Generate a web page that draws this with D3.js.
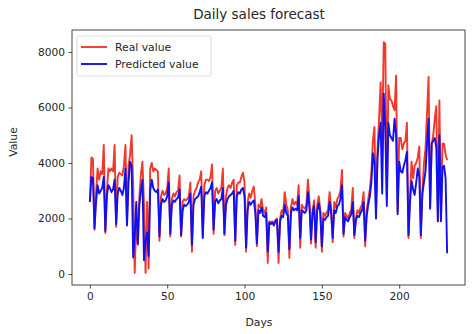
<!DOCTYPE html>
<html><head><meta charset="utf-8">
<script src="https://cdn.jsdelivr.net/npm/d3@7"></script>
<style>body{margin:0;background:#fff}svg{display:block}</style>
</head><body>
<svg id="c" width="475" height="334"></svg>
<script>
const title = "Daily sales forecast";
const xLabel = "Days";
const yLabel = "Value";
const seriesNames = ["Real value", "Predicted value"];
const xTicks = [0, 50, 100, 150, 200];
const yTicks = [0, 2000, 4000, 6000, 8000];

const realValues = [
2600,4200,4150,1600,2900,3800,3400,3700,3600,4650,
1480,3000,3800,3700,3800,3700,4650,1700,3500,3650,
3600,3550,3900,4650,1800,3900,4300,5000,3200,40,
1950,1050,2800,3600,4050,2500,40,2600,200,3800,
4000,3700,3800,3750,3700,1200,2800,3000,2850,2900,
3100,3800,1350,2700,2900,2800,2950,3000,3550,1350,
2600,2700,2650,2700,2800,3300,800,2800,3000,3100,
3300,3400,3700,1350,3200,3400,3400,3350,3500,3950,
1450,3000,3100,2900,3000,3100,3800,1400,2800,3100,
3200,3100,3300,3400,1050,3200,3300,3300,3500,3650,
3300,800,2600,2900,2750,3000,3150,2500,1000,2500,
2400,2700,2300,2200,2400,400,1900,1850,1900,1800,
1950,2000,400,2000,2300,2200,2950,2500,2300,580,
2400,2700,2500,2600,2500,3200,950,2500,2400,2350,
2500,3400,2600,1100,2300,2650,950,2500,2800,2300,
800,2200,2100,2200,2300,2950,2400,1150,2600,2400,
2700,2800,3000,3750,1350,2200,2100,2000,2200,2300,
3100,1300,2000,2300,2200,2400,2500,2950,1000,2300,
2700,3050,3650,4800,5300,2300,4500,5600,6900,4650,
8350,8300,2750,6800,6300,6250,6050,5900,7150,2250,
4900,4900,4500,4700,4800,5450,1300,2800,4050,3450,
3900,4000,4200,4600,1300,3000,4000,4500,5800,7100,
2400,4650,5000,5600,6050,1900,6250,1950,4700,4700,
4300,4100];

const predictedValues = [
2600,3500,3450,1650,2600,3200,2900,3000,3100,3500,
1550,2800,3200,3100,2950,3050,3400,1800,2900,3100,
3000,2850,3100,3800,1750,3300,4050,3900,600,1400,
2600,1100,2500,3000,3400,500,1200,1500,650,3000,
3400,3100,3000,2950,3050,1350,2500,2700,2600,2650,
2800,3300,1450,2500,2650,2600,2700,2750,3050,1400,
2300,2500,2450,2500,2600,2900,1050,2500,2700,2750,
2800,2950,3150,1300,2800,2950,2900,3000,3100,3300,
1600,2600,2700,2550,2650,2700,3100,1450,2500,2700,
2800,2850,2900,3000,1200,2800,2950,2900,3050,3100,
2800,950,2300,2600,2500,2600,2650,2200,1100,2300,
2200,2400,2100,2050,2200,800,1850,1800,1850,1750,
1900,1950,800,1900,2100,2050,2500,2200,2100,900,
2200,2400,2300,2350,2300,2800,1300,2300,2250,2200,
2300,2950,2400,1250,2200,2450,1150,2300,2550,2200,
1000,2000,1950,2050,2100,2600,2200,1300,2300,2200,
2450,2500,2700,3200,1450,2050,1950,1900,2050,2150,
2600,1400,1950,2100,2050,2200,2300,2600,1200,2100,
2500,2800,3300,4350,4000,2000,4200,5000,5450,2900,
6500,5300,2450,5450,5000,4900,4800,5600,5000,2150,
4050,3700,3650,3900,4100,4400,1400,2600,3350,3050,
2850,3300,3800,3500,1400,2900,3300,3700,4700,5600,
2350,4700,4800,4900,4550,1900,5000,1900,3850,3900,
3450,750];

const svg = d3.select("#c");
const font = "DejaVu Sans, sans-serif";
const txt = "#262626";

const x = d3.scaleLinear().domain([-11.55, 242.55]).range([72, 465]);
const y = d3.scaleLinear().domain([-396, 8793]).range([285, 30]);

// lines
const line = d3.line().x((d, i) => x(i)).y(d => y(d));
svg.append("path").datum(realValues).attr("d", line)
  .attr("fill", "none").attr("stroke", "#f0392b").attr("stroke-width", 1.9)
  .attr("stroke-linejoin", "round");
svg.append("path").datum(predictedValues).attr("d", line)
  .attr("fill", "none").attr("stroke", "#1010f0").attr("stroke-width", 1.9)
  .attr("stroke-linejoin", "round");

// axes
const xAxis = d3.axisBottom(x).tickValues(xTicks).tickFormat(d3.format("d")).tickSize(3.5).tickPadding(3.5);
const yAxis = d3.axisLeft(y).tickValues(yTicks).tickFormat(d3.format("d")).tickSize(3.5).tickPadding(3.5);
const gx = svg.append("g").attr("transform", "translate(0,285)").call(xAxis);
const gy = svg.append("g").attr("transform", "translate(72,0)").call(yAxis);
[gx, gy].forEach(g => {
  g.select(".domain").remove();
  g.selectAll("line").attr("stroke", "#333").attr("stroke-width", 0.9);
  g.selectAll("text").attr("fill", txt).style("font-family", font).style("font-size", "10.6px");
});

// frame
svg.append("rect").attr("x", 72).attr("y", 30).attr("width", 393).attr("height", 255)
  .attr("fill", "none").attr("stroke", "#333").attr("stroke-width", 0.9);

// title & labels
svg.append("text").attr("x", 259).attr("y", 19).attr("text-anchor", "middle")
  .attr("fill", txt).style("font-family", font).style("font-size", "13.5px").text(title);
svg.append("text").attr("x", 259).attr("y", 326).attr("text-anchor", "middle")
  .attr("fill", txt).style("font-family", font).style("font-size", "10.8px").text(xLabel);
svg.append("text").attr("transform", "translate(17,142) rotate(-90)").attr("text-anchor", "middle")
  .attr("fill", txt).style("font-family", font).style("font-size", "10.8px").text(yLabel);

// legend
const lg = svg.append("g");
lg.append("rect").attr("x", 77).attr("y", 36).attr("width", 134).attr("height", 40)
  .attr("rx", 2.5).attr("fill", "#fff").attr("fill-opacity", 0.8)
  .attr("stroke", "#d5d5d5").attr("stroke-width", 0.9);
const colors = ["#f0392b", "#1010f0"];
seriesNames.forEach((n, k) => {
  const yy = 47 + k * 17;
  lg.append("line").attr("x1", 81).attr("x2", 107).attr("y1", yy).attr("y2", yy)
    .attr("stroke", colors[k]).attr("stroke-width", 1.9);
  lg.append("text").attr("x", 115).attr("y", yy + 4).attr("fill", txt)
    .style("font-family", font).style("font-size", "10.8px").text(n);
});
</script>
</body></html>
